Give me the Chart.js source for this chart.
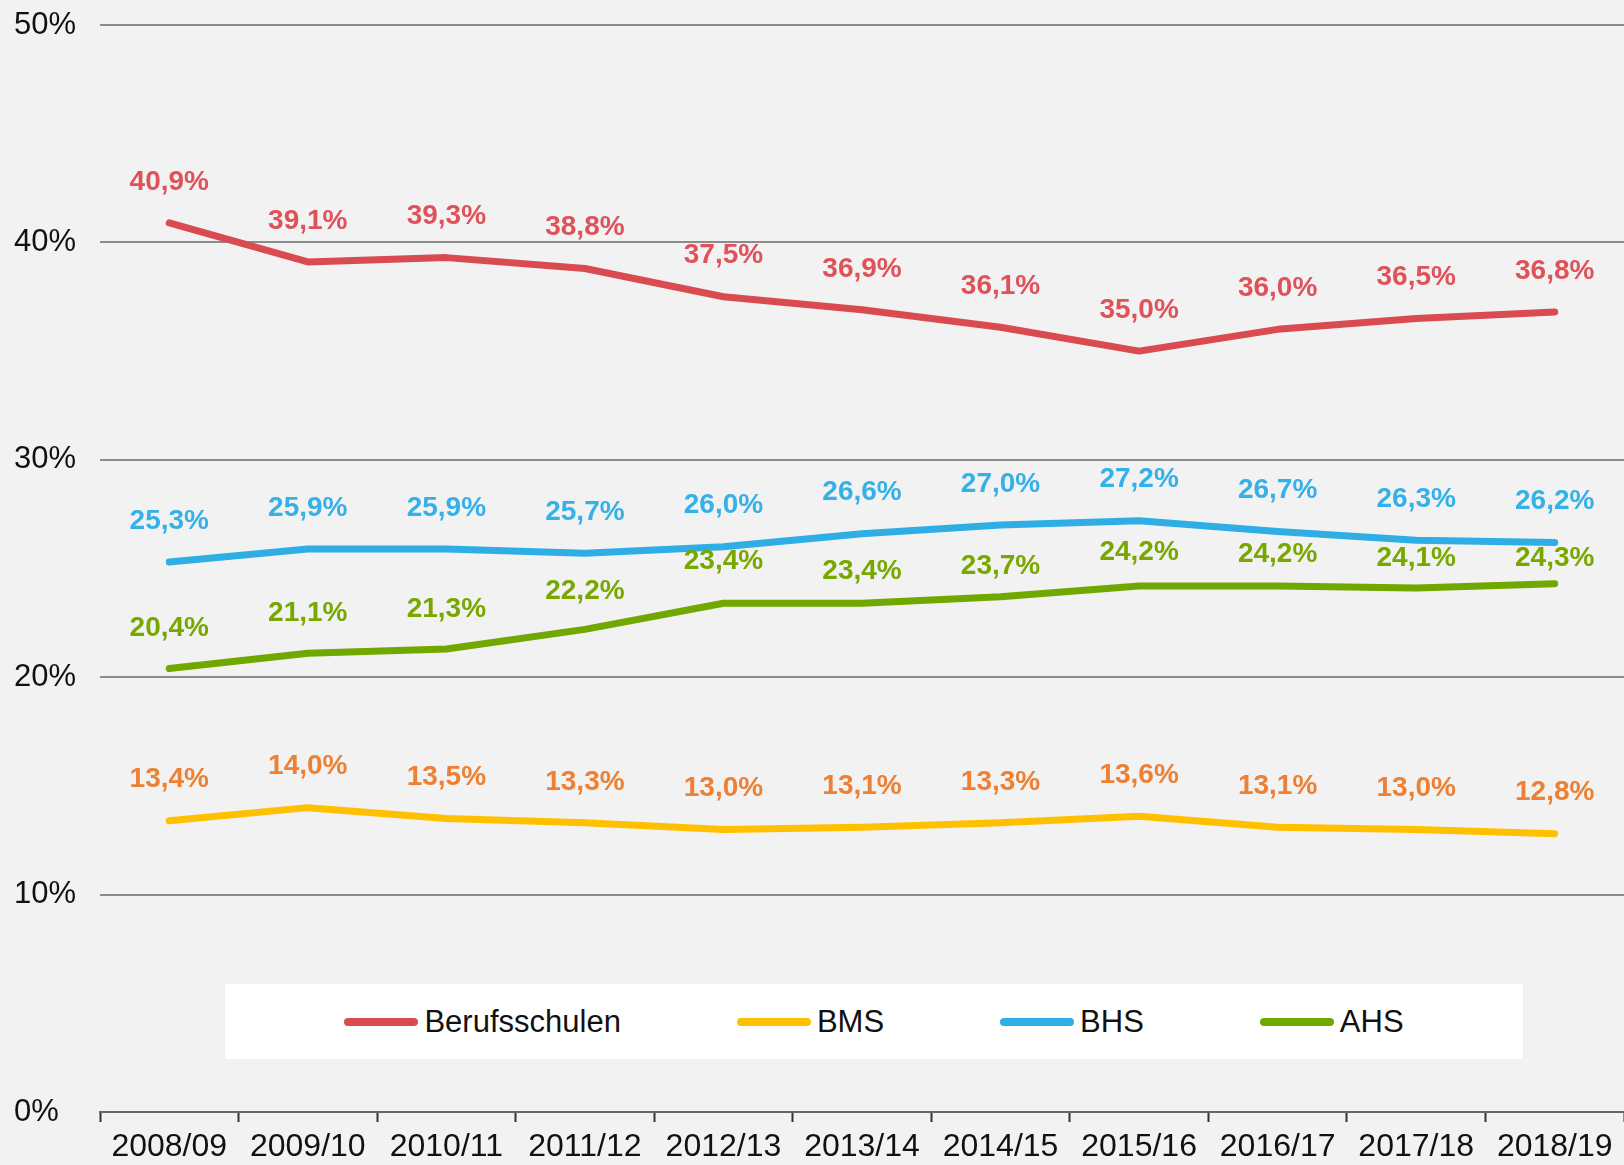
<!DOCTYPE html>
<html>
<head>
<meta charset="utf-8">
<script src="https://cdn.jsdelivr.net/npm/chart.js@4/dist/chart.umd.min.js"></script>
<style>
  body { margin: 0; background: #f2f2f2; overflow: hidden; }
  #wrap { position: relative; width: 1624px; height: 1165px; }
  #legend {
    position: absolute; left: 225px; top: 984px; width: 1298px; height: 75px;
    background: #fff; display: flex; align-items: center; justify-content: center; gap: 116px;
    font-family: "Liberation Sans", Arial, sans-serif; font-size: 31px; color: #111;
  }
  .item { display: flex; align-items: center; }
  .swatch { width: 74px; height: 8px; border-radius: 4px; margin-right: 6px; }
</style>
</head>
<body>
<div id="wrap">
  <canvas id="myChart" width="1624" height="1165"></canvas>
  <div id="legend"></div>
</div>
<script>
const years = ["2008/09", "2009/10", "2010/11", "2011/12", "2012/13", "2013/14",
  "2014/15", "2015/16", "2016/17", "2017/18", "2018/19"];
const berufsschulen = [40.9, 39.1, 39.3, 38.8, 37.5, 36.9, 36.1, 35.0, 36.0, 36.5, 36.8];
const bms = [13.4, 14.0, 13.5, 13.3, 13.0, 13.1, 13.3, 13.6, 13.1, 13.0, 12.8];
const bhs = [25.3, 25.9, 25.9, 25.7, 26.0, 26.6, 27.0, 27.2, 26.7, 26.3, 26.2];
const ahs = [20.4, 21.1, 21.3, 22.2, 23.4, 23.4, 23.7, 24.2, 24.2, 24.1, 24.3];
const seriesNames = ["Berufsschulen", "BMS", "BHS", "AHS"];

const lineColors = ["#d94b50", "#ffc000", "#2eaee4", "#70a800"];
const labelColors = ["#e0525a", "#ee8033", "#35b0e8", "#78a800"];

// Abstand Beschriftung -> Linie (px); AHS-Labels sind im Original enger gesetzt
const labelGap = 41;
const ahsLabelGap = [40, 40, 40, 38, 42, 32, 30, 34, 32, 30, 25];

function fmt(v) {
  return v.toFixed(1).replace(".", ",") + "%";
}

// Datenbeschriftungen über den Punkten
const pointLabels = {
  id: "pointLabels",
  afterDatasetsDraw(chart) {
    const ctx = chart.ctx;
    ctx.save();
    ctx.font = "bold 28px 'Liberation Sans', Arial, sans-serif";
    ctx.textAlign = "center";
    ctx.textBaseline = "middle";
    chart.data.datasets.forEach(function (ds, i) {
      const meta = chart.getDatasetMeta(i);
      ctx.fillStyle = labelColors[i];
      meta.data.forEach(function (el, j) {
        const gap = ds.label === "AHS" ? ahsLabelGap[j] : labelGap;
        ctx.fillText(fmt(ds.data[j]), el.x, el.y - gap);
      });
    });
    ctx.restore();
  }
};

document.addEventListener("DOMContentLoaded", function () {
  const allData = [berufsschulen, bms, bhs, ahs];
  const datasets = allData.map(function (d, i) {
    return {
      label: seriesNames[i],
      data: d,
      borderColor: lineColors[i],
      backgroundColor: lineColors[i],
      borderWidth: 7,
      borderCapStyle: "round",
      borderJoinStyle: "round",
      pointRadius: 0,
      tension: 0,
      fill: false,
    };
  });

  const ctx = document.getElementById("myChart").getContext("2d");
  new Chart(ctx, {
    type: "line",
    data: { labels: years, datasets: datasets },
    plugins: [pointLabels],
    options: {
      responsive: false,
      animation: false,
      layout: { padding: { left: 14, top: 25, right: 0, bottom: 0 } },
      plugins: {
        legend: { display: false },
        tooltip: { enabled: false },
      },
      scales: {
        x: {
          offset: true,
          grid: {
            offset: true,
            drawOnChartArea: false,
            drawTicks: true,
            tickLength: 10,
            tickWidth: 2,
            tickColor: "#333",
          },
          border: { color: "#666", width: 2 },
          ticks: {
            color: "#111",
            font: { family: "'Liberation Sans', Arial, sans-serif", size: 32 },
            padding: 6,
            maxRotation: 0,
            autoSkip: false,
          },
          afterFit: function (s) { s.height = 53; },
        },
        y: {
          min: 0,
          max: 50,
          grid: { color: "#8c8c8c", lineWidth: 2, drawTicks: false },
          border: { display: false },
          ticks: {
            stepSize: 10,
            color: "#111",
            crossAlign: "far",
            padding: 0,
            font: { family: "'Liberation Sans', Arial, sans-serif", size: 31 },
            callback: function (v) { return v + "%"; },
          },
          afterFit: function (s) { s.width = 86; },
        },
      },
    },
  });

  // Legende
  const legend = document.getElementById("legend");
  seriesNames.forEach(function (name, i) {
    const item = document.createElement("div");
    item.className = "item";
    const sw = document.createElement("span");
    sw.className = "swatch";
    sw.style.background = lineColors[i];
    const tx = document.createElement("span");
    tx.textContent = name;
    item.appendChild(sw);
    item.appendChild(tx);
    legend.appendChild(item);
  });
});
</script>
</body>
</html>
